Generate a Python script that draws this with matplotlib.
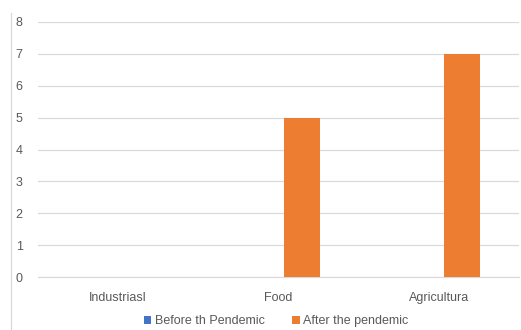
import matplotlib
matplotlib.use("Agg")
import matplotlib.pyplot as plt
import numpy as np
from matplotlib.lines import Line2D

categories = ["Industriasl", "Food", "Agricultura"]
before = [0, 0, 0]
after = [0, 5, 7]
yticks = [0, 1, 2, 3, 4, 5, 6, 7, 8]

plt.rcParams['font.family'] = ['Liberation Sans', 'DejaVu Sans']

fig = plt.figure(figsize=(5.21, 3.30), dpi=100)
ax = fig.add_axes([38/521, 1-277/330, 481/521, 255/330])

x = np.arange(len(categories))
w = 0.225
off = 0.144
ax.bar(x - off, before, w, color="#4472C4", label="Before th Pendemic", zorder=3)
ax.bar(x + off, after, w, color="#ED7D31", label="After the pendemic", zorder=3)

ax.set_xlim(-0.5, 2.5)
ax.set_ylim(0, 8)
ax.set_yticks(yticks)
ax.set_xticks(x)
ax.set_xticklabels(categories)
ax.grid(axis='y', color="#D9D9D9", linewidth=0.9, zorder=0)
for s in ax.spines.values():
    s.set_visible(False)
ax.spines['bottom'].set_visible(True)
ax.spines['bottom'].set_color("#D9D9D9")
ax.tick_params(axis='both', length=0, colors="#595959", labelsize=9)
ax.tick_params(axis='y', pad=11)
ax.tick_params(axis='x', pad=11)

fig.add_artist(Line2D([11/521, 11/521], [0, 1-13/330], color="#D9D9D9", linewidth=0.9))

fig.legend(loc='center', bbox_to_anchor=(0.53, 0.026), ncol=2, frameon=False,
           fontsize=9, handlelength=0.6, handleheight=0.6, columnspacing=2.2,
           handletextpad=0.3, labelcolor="#595959")

fig.savefig("out.png", dpi=100)
